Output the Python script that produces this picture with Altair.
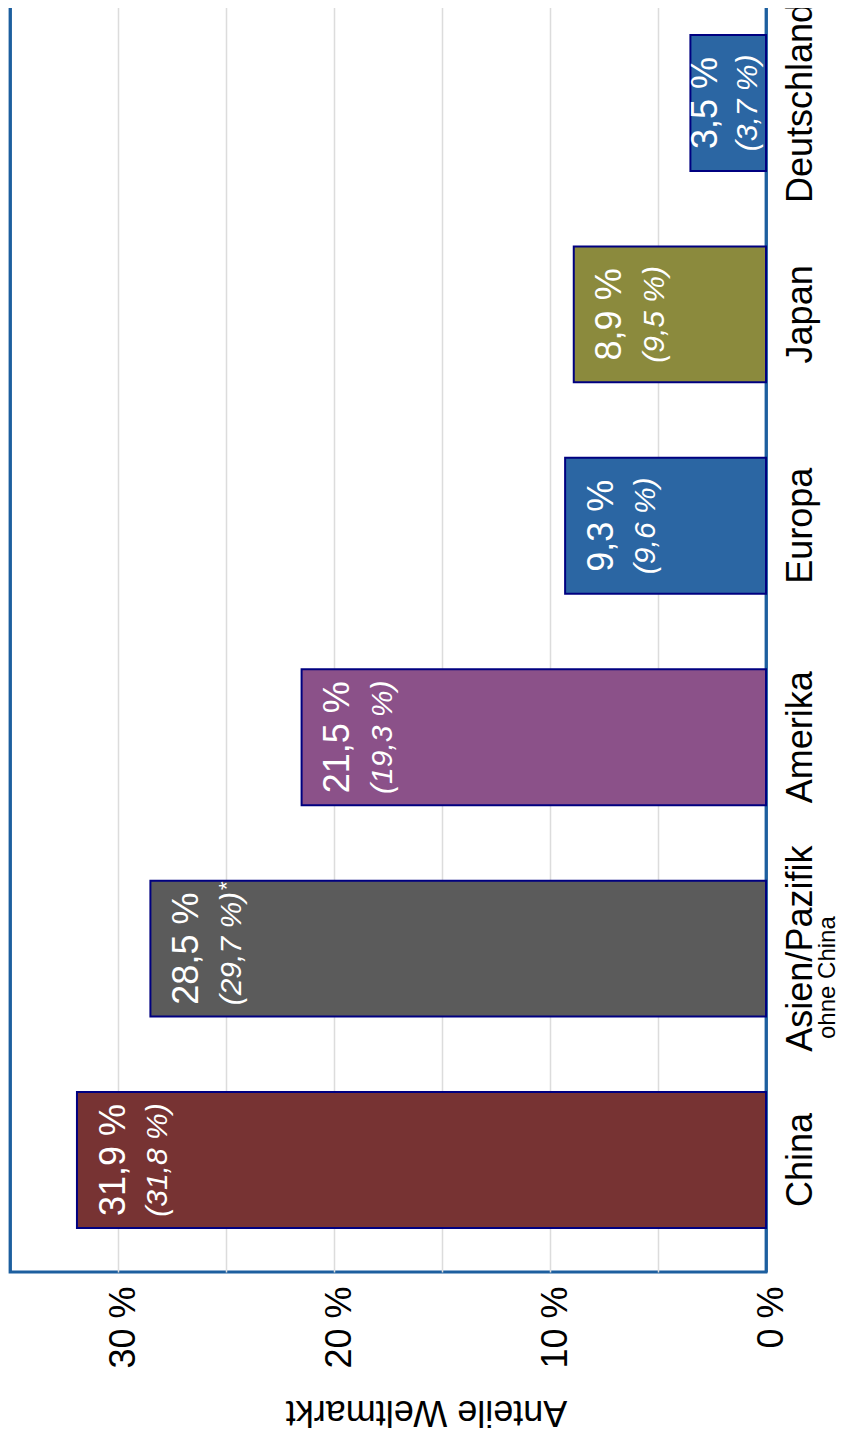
import altair as alt
import pandas as pd

# ---- data ----
regions = ["China", "Asien/Pazifik", "Amerika", "Europa", "Japan", "Deutschland"]
shares = [31.9, 28.5, 21.5, 9.3, 8.9, 3.5]
prev_shares = [31.8, 29.7, 19.3, 9.6, 9.5, 3.7]
share_labels = ["31,9 %", "28,5 %", "21,5 %", "9,3 %", "8,9 %", "3,5 %"]
prev_labels = ["(31,8 %)", "(29,7 %)", "(19,3 %)", "(9,6 %)", "(9,5 %)", "(3,7 %)"]
notes = ["", "*", "", "", "", ""]
sublabels = ["", "ohne China", "", "", "", ""]
axis_values = [0, 5, 10, 15, 20, 25, 30, 35]

# ---- styling ----
bar_colors = ["#773333", "#5b5b5b", "#8b5189", "#2b66a3", "#8b8a3d", "#2b66a3"]
FRAME = "#1d5f9f"
FONT = "Liberation Sans, Arial, Helvetica, sans-serif"
NARROW = "Liberation Sans Narrow, Arial Narrow, Liberation Sans, sans-serif"

df = pd.DataFrame({
    "region": regions,
    "share": shares,
    "prev": prev_shares,
    "lab1": share_labels,
    "lab2": prev_labels,
    "note": notes,
    "sub": sublabels,
})

order = list(reversed(regions))

xscale = alt.Scale(domain=[0, 35], reverse=True, nice=False, zero=True)
yscale = alt.Scale(paddingInner=0.357, paddingOuter=0.208)

edge_test = "datum.value == 0 || datum.value == 35"

xaxis = alt.Axis(
    values=axis_values,
    labelExpr="datum.value % 10 == 0 ? datum.value + ' %' : ''",
    labelAngle=270,
    labelAlign="right",
    labelBaseline="middle",
    labelFontSize=36,
    labelColor="black",
    labelPadding=14,
    labelOffset=5,
    labelFlush=False,
    labelOverlap=False,
    labelLimit=0,
    ticks=False,
    tickSize=0,
    domain=False,
    grid=True,
    gridColor={"condition": {"test": edge_test, "value": FRAME}, "value": "#dcdcdc"},
    gridWidth={"condition": {"test": edge_test, "value": 2.8}, "value": 1.5},
    title="Anteile Weltmarkt",
    titleAngle=180,
    titleFontSize=36,
    titleFontWeight="normal",
    titleColor="black",
    titleAlign="center",
    titleBaseline="middle",
    titleX=416,
    titleY=139,
)

yaxis = alt.Axis(
    orient="right",
    title=None,
    labelAngle=270,
    labelAlign="center",
    labelBaseline="top",
    labelFontSize=36,
    labelColor="black",
    labelPadding=17,
    labelLimit=0,
    labelOverlap=False,
    ticks=False,
    tickSize=0,
    domain=False,
    grid=False,
)

base = alt.Chart(df).transform_calculate(
    pos1="datum.share - (datum.share > 5 ? 1.7 : 0.72)",
    pos2="datum.share - (datum.share > 5 ? 3.76 : 2.68)",
)

Y = alt.Y("region:N", sort=order, scale=yscale, axis=yaxis)

bars = base.mark_bar(stroke="#000080", strokeWidth=2).encode(
    x=alt.X("share:Q", scale=xscale, axis=xaxis),
    y=Y,
    color=alt.Color("region:N", scale=alt.Scale(domain=regions, range=bar_colors), legend=None),
)

label1 = base.mark_text(
    angle=270, align="center", baseline="middle", fontSize=36, color="white", font=FONT
).encode(
    x=alt.X("pos1:Q", scale=xscale, axis=xaxis),
    y=Y,
    text="lab1:N",
)

label2 = base.mark_text(
    angle=270, align="center", baseline="middle", fontSize=30, fontStyle="italic",
    color="white", font=FONT
).encode(
    x=alt.X("pos2:Q", scale=xscale, axis=xaxis),
    y=Y,
    text="lab2:N",
)

asterisk = base.transform_filter("datum.note != ''").mark_text(
    angle=270, align="center", baseline="middle", fontSize=22, color="white", font=FONT,
    xOffset=-5, yOffset=-63,
).encode(
    x=alt.X("pos2:Q", scale=xscale, axis=xaxis),
    y=Y,
    text="note:N",
)

sub = base.transform_filter("datum.sub != ''").mark_text(
    angle=270, align="center", baseline="middle", fontSize=24, color="black", font=NARROW,
    yOffset=29,
).encode(
    x=alt.value(818),
    y=Y,
    text="sub:N",
)

chart = alt.layer(bars, label1, label2, asterisk, sub).properties(
    width=756,
    height=1281,
    autosize=alt.AutoSizeParams(type="none"),
    padding={"left": 2, "top": -17, "right": 74, "bottom": 158},
).configure(
    font=FONT,
    background="white",
).configure_view(
    stroke=FRAME,
    strokeWidth=2.8,
)

chart.save("out.html", embed_options={"renderer": "svg", "actions": False})
